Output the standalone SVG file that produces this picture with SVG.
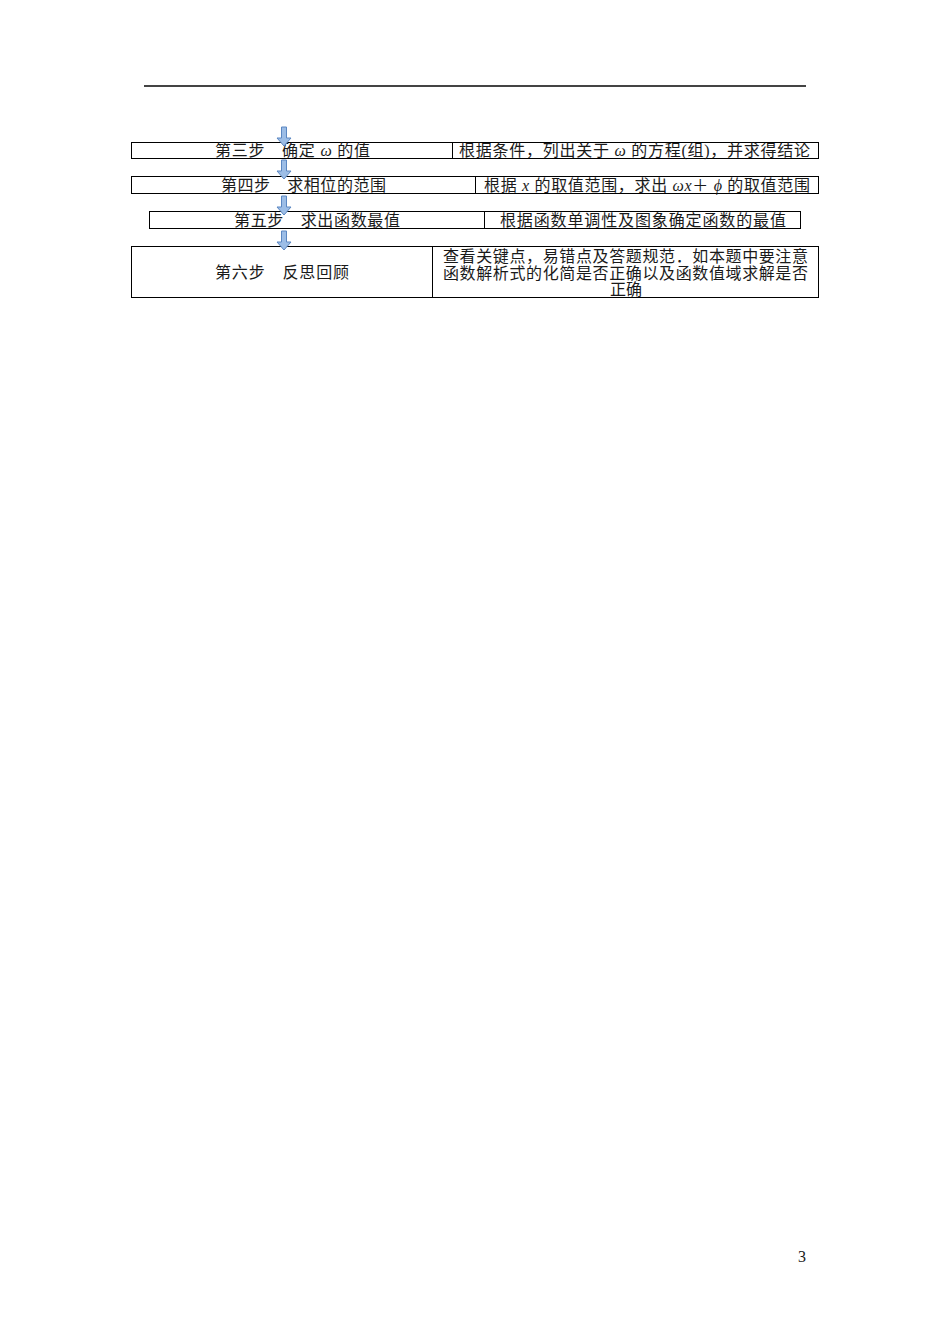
<svg xmlns="http://www.w3.org/2000/svg" xmlns:xlink="http://www.w3.org/1999/xlink" width="950" height="1344" viewBox="0 0 950 1344">
<style>
  .box { fill: none; stroke: #000; stroke-width: 1; }
  .t { font-family: "Liberation Serif", "Noto Sans CJK SC", serif; font-size: 16px; fill: #1a1a1a; }
  .arr { fill: #9cbde6; stroke: #5b87c2; stroke-width: 1; }
</style>
<defs>
  <path id="downArrow" class="arr" d="M-2.5,0 H2.5 V11 H7 L0,19 L-7,11 H-2.5 Z"/>
</defs>
<rect width="950" height="1344" fill="#fff"/>
<line x1="144" y1="86" x2="806" y2="86" stroke="#444" stroke-width="2"/>

<g id="step3">
  <rect class="box" x="131.5" y="142.5" width="321" height="16"/>
  <text class="t" x="292.5" y="156" text-anchor="middle" textLength="155">第三步　确定 <tspan font-style="italic">ω</tspan> 的值</text>
</g>
<g id="step3-desc">
  <rect class="box" x="452.5" y="142.5" width="366" height="16"/>
  <text class="t" x="634.5" y="156" text-anchor="middle" textLength="351">根据条件，列出关于 <tspan font-style="italic">ω</tspan> 的方程(组)，并求得结论</text>
</g>

<g id="step4">
  <rect class="box" x="131.5" y="176.5" width="344" height="17"/>
  <text class="t" x="303.5" y="191" text-anchor="middle" textLength="165">第四步　求相位的范围</text>
</g>
<g id="step4-desc">
  <rect class="box" x="475.5" y="176.5" width="343" height="17"/>
  <text class="t" x="647" y="191" text-anchor="middle" textLength="326">根据 <tspan font-style="italic">x</tspan> 的取值范围，求出 <tspan font-style="italic">ωx</tspan>＋ <tspan font-style="italic">ϕ</tspan> 的取值范围</text>
</g>

<g id="step5">
  <rect class="box" x="149.5" y="211.5" width="335" height="17"/>
  <text class="t" x="317" y="226" text-anchor="middle" textLength="166">第五步　求出函数最值</text>
</g>
<g id="step5-desc">
  <rect class="box" x="484.5" y="211.5" width="316" height="17"/>
  <text class="t" x="643" y="226" text-anchor="middle" textLength="286">根据函数单调性及图象确定函数的最值</text>
</g>

<g id="step6">
  <rect class="box" x="131.5" y="246.5" width="301" height="51"/>
  <text class="t" x="282" y="278" text-anchor="middle" textLength="134">第六步　反思回顾</text>
</g>
<g id="step6-desc">
  <rect class="box" x="432.5" y="246.5" width="386" height="51"/>
  <text class="t" x="625.5" y="262" text-anchor="middle" textLength="365">查看关键点，易错点及答题规范．如本题中要注意</text>
  <text class="t" x="625.5" y="279" text-anchor="middle" textLength="365">函数解析式的化简是否正确以及函数值域求解是否</text>
  <text class="t" x="626" y="295" text-anchor="middle" textLength="32">正确</text>
</g>

<g id="connectors">
  <use xlink:href="#downArrow" href="#downArrow" x="284" y="127"/>
  <use xlink:href="#downArrow" href="#downArrow" x="284" y="160"/>
  <use xlink:href="#downArrow" href="#downArrow" x="284" y="196"/>
  <use xlink:href="#downArrow" href="#downArrow" x="284" y="231"/>
</g>

<text class="t" x="802" y="1262" text-anchor="middle" font-size="14">3</text>
</svg>
